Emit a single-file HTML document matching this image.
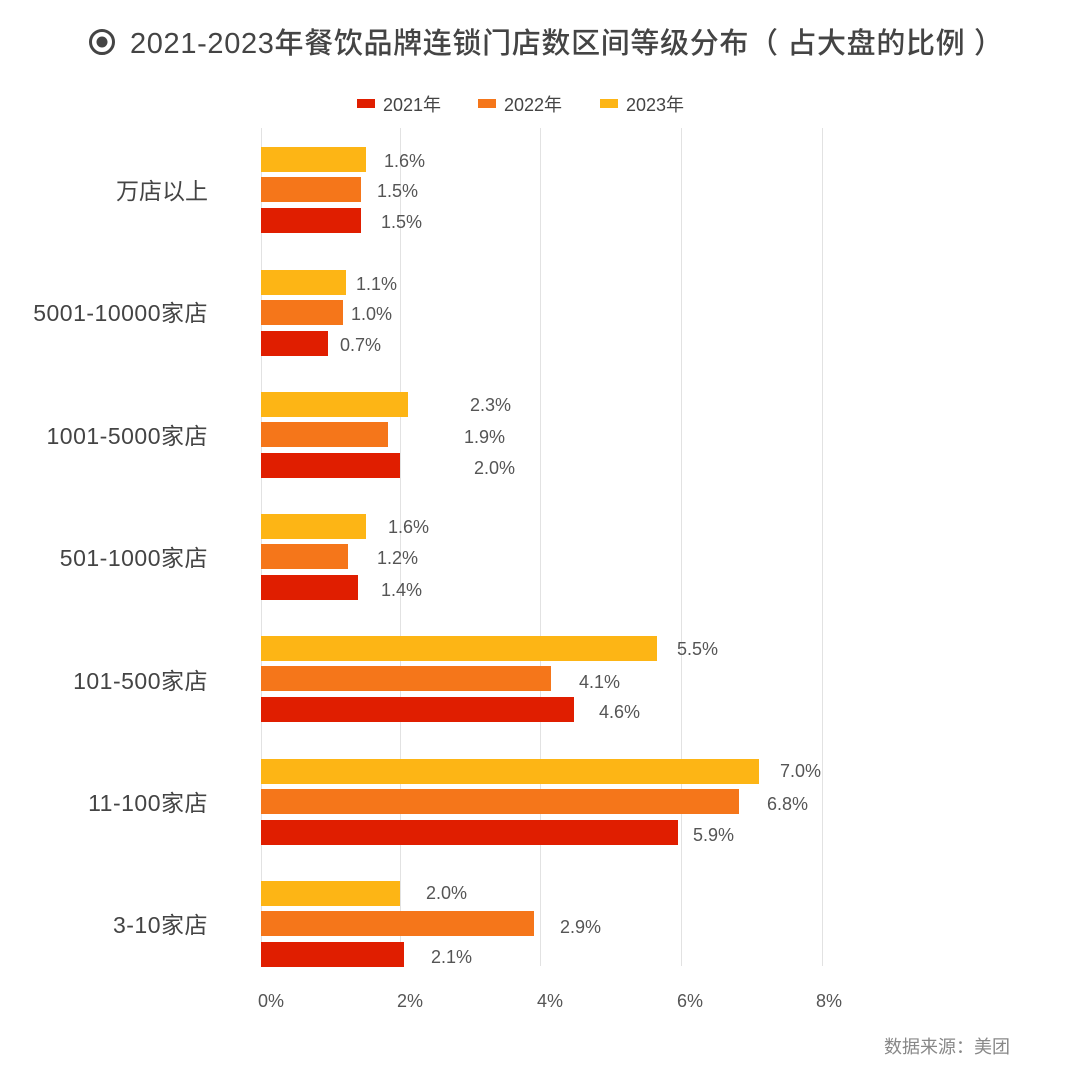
<!DOCTYPE html>
<html><head><meta charset="utf-8"><style>
html,body{margin:0;padding:0;background:#fff;}
svg{display:block;font-family:"Liberation Sans","Noto Sans CJK SC",sans-serif;}
</style></head><body>
<svg width="1080" height="1080" viewBox="0 0 1080 1080" xmlns="http://www.w3.org/2000/svg">
<rect width="1080" height="1080" fill="#fff"/>
<circle cx="102" cy="42" r="11.5" fill="none" stroke="#444" stroke-width="3"/>
<circle cx="102" cy="42" r="5.5" fill="#444"/>
<text x="130" y="53" font-size="29" fill="#444" font-weight="500" textLength="873" lengthAdjust="spacing">2021-2023年餐饮品牌连锁门店数区间等级分布（ 占大盘的比例 ）</text>
<rect x="357" y="99" width="18" height="9" fill="#E01E00"/>
<text x="383" y="111" font-size="18" fill="#444">2021年</text>
<rect x="478" y="99" width="18" height="9" fill="#F5761A"/>
<text x="504" y="111" font-size="18" fill="#444">2022年</text>
<rect x="600" y="99" width="18" height="9" fill="#FDB515"/>
<text x="626" y="111" font-size="18" fill="#444">2023年</text>
<g stroke="#e2e2e2" stroke-width="1">
<line x1="261.5" y1="128" x2="261.5" y2="966"/>
<line x1="400.5" y1="128" x2="400.5" y2="966"/>
<line x1="540.5" y1="128" x2="540.5" y2="966"/>
<line x1="681.5" y1="128" x2="681.5" y2="966"/>
<line x1="822.5" y1="128" x2="822.5" y2="966"/>
</g>
<g font-size="18" fill="#555">
<text x="258" y="1007">0%</text><text x="397" y="1007">2%</text><text x="537" y="1007">4%</text><text x="677" y="1007">6%</text><text x="816" y="1007">8%</text>
</g>
<g font-size="23" fill="#444" text-anchor="end">
<text x="208" y="199">万店以上</text>
<text x="208" y="321" letter-spacing="0.5">5001-10000家店</text>
<text x="208" y="444" letter-spacing="0.5">1001-5000家店</text>
<text x="208" y="566" letter-spacing="0.5">501-1000家店</text>
<text x="208" y="689" letter-spacing="0.5">101-500家店</text>
<text x="208" y="811" letter-spacing="0.5">11-100家店</text>
<text x="208" y="933" letter-spacing="0.5">3-10家店</text>
</g>
<text x="1010" y="1053" font-size="18" fill="#888" text-anchor="end">数据来源：美团</text>
<g font-size="18" fill="#555">
<rect x="261" y="147" width="105" height="25" fill="#FDB515"/><rect x="261" y="177" width="100" height="25" fill="#F5761A"/><rect x="261" y="208" width="100" height="25" fill="#E01E00"/>
<text x="384" y="167">1.6%</text><text x="377" y="197">1.5%</text><text x="381" y="228">1.5%</text>
<rect x="261" y="270" width="85" height="25" fill="#FDB515"/><rect x="261" y="300" width="82" height="25" fill="#F5761A"/><rect x="261" y="331" width="67" height="25" fill="#E01E00"/>
<text x="356" y="290">1.1%</text><text x="351" y="320">1.0%</text><text x="340" y="351">0.7%</text>
<rect x="261" y="392" width="147" height="25" fill="#FDB515"/><rect x="261" y="422" width="127" height="25" fill="#F5761A"/><rect x="261" y="453" width="139" height="25" fill="#E01E00"/>
<text x="470" y="411">2.3%</text><text x="464" y="443">1.9%</text><text x="474" y="474">2.0%</text>
<rect x="261" y="514" width="105" height="25" fill="#FDB515"/><rect x="261" y="544" width="87" height="25" fill="#F5761A"/><rect x="261" y="575" width="97" height="25" fill="#E01E00"/>
<text x="388" y="533">1.6%</text><text x="377" y="564">1.2%</text><text x="381" y="596">1.4%</text>
<rect x="261" y="636" width="396" height="25" fill="#FDB515"/><rect x="261" y="666" width="290" height="25" fill="#F5761A"/><rect x="261" y="697" width="313" height="25" fill="#E01E00"/>
<text x="677" y="655">5.5%</text><text x="579" y="688">4.1%</text><text x="599" y="718">4.6%</text>
<rect x="261" y="759" width="498" height="25" fill="#FDB515"/><rect x="261" y="789" width="478" height="25" fill="#F5761A"/><rect x="261" y="820" width="417" height="25" fill="#E01E00"/>
<text x="780" y="777">7.0%</text><text x="767" y="810">6.8%</text><text x="693" y="841">5.9%</text>
<rect x="261" y="881" width="139" height="25" fill="#FDB515"/><rect x="261" y="911" width="273" height="25" fill="#F5761A"/><rect x="261" y="942" width="143" height="25" fill="#E01E00"/>
<text x="426" y="899">2.0%</text><text x="560" y="933">2.9%</text><text x="431" y="963">2.1%</text>
</g>
</svg>
</body></html>
